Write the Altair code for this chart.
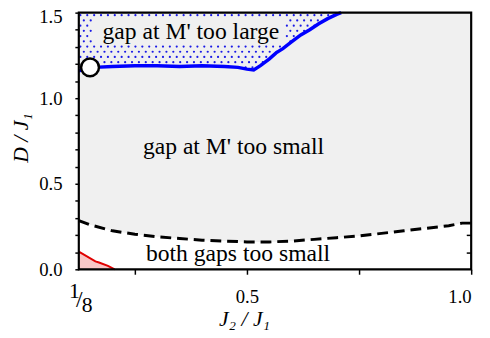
import altair as alt
import pandas as pd

# ---- data ----
J2_dash = [0.125, 0.15, 0.2, 0.25, 0.3, 0.35, 0.4, 0.45, 0.5, 0.55, 0.6, 0.65, 0.7, 0.75, 0.8, 0.85, 0.9, 0.95, 0.98, 1.0]
D_dash = [0.285, 0.26, 0.225, 0.205, 0.19, 0.18, 0.17, 0.165, 0.16, 0.16, 0.165, 0.175, 0.185, 0.195, 0.21, 0.225, 0.24, 0.255, 0.27, 0.27]

J2_blue = [0.125, 0.14, 0.16, 0.2, 0.25, 0.3, 0.35, 0.4, 0.45, 0.48, 0.5, 0.515, 0.53, 0.55, 0.565, 0.58, 0.6, 0.62, 0.64, 0.66, 0.68, 0.7, 0.71]
D_blue = [1.16, 1.17, 1.18, 1.185, 1.19, 1.19, 1.185, 1.19, 1.185, 1.18, 1.17, 1.165, 1.19, 1.23, 1.265, 1.29, 1.33, 1.37, 1.40, 1.435, 1.465, 1.49, 1.5]

J2_red = [0.125, 0.162, 0.17, 0.19, 0.205]
D_red = [0.103, 0.046, 0.04, 0.02, 0.0]

circle_J2 = [0.15]
circle_D = [1.18]

label_text = ["gap at M' too large", "gap at M' too small", "both gaps too small"]
label_J2 = [0.375, 0.47, 0.48]
label_D = [1.345, 0.672, 0.046]

x_tick_values = [0.25, 0.5, 0.75, 1.0]
y_tick_values = [round(0.1 * i, 1) for i in range(16)]
y_inner_ticks = [round(0.1 * i, 1) for i in range(1, 15)]

W, H = 399, 261
FONT = "Liberation Serif"

dash_df = pd.DataFrame({"J2": J2_dash, "D": D_dash})
blue_df = pd.DataFrame({"J2": J2_blue, "D": D_blue})
red_df = pd.DataFrame({"J2": J2_red, "D": D_red})
circ_df = pd.DataFrame({"J2": circle_J2, "D": circle_D})
lab_df = pd.DataFrame({"J2": label_J2, "D": label_D, "t": label_text})
frac_df = pd.DataFrame({"J2": [0.125], "D": [0.0]})

xs = alt.Scale(domain=[0.125, 1.0], nice=False, zero=False)
ys = alt.Scale(domain=[0, 1.5], nice=False, zero=True)


def X(field="J2", axis=None):
    return alt.X(f"{field}:Q", scale=xs, axis=axis)


def Y(field="D", axis=None):
    return alt.Y(f"{field}:Q", scale=ys, axis=axis)


bottom_axis = alt.Axis(
    orient="bottom",
    values=x_tick_values,
    labelExpr="datum.value == 0.5 ? '0.5' : (datum.value == 1 ? '1.0' : '')",
    tickSize=5, tickWidth=1.5, tickColor="black", domain=False,
    labelFont=FONT, labelFontSize=19, labelColor="black", labelPadding=14,
    title="J₂ / J₁", titleFont=FONT, titleFontSize=22, titleFontStyle="italic",
    titleFontWeight="normal", titleColor="black", titleX=168, titleY=57,
    titleBaseline="alphabetic", grid=False, zindex=1,
)

left_axis = alt.Axis(
    orient="left",
    values=y_tick_values,
    labelExpr="indexof(['0.0','0.5','1.0','1.5'], format(datum.value, '.1f')) >= 0 ? format(datum.value, '.1f') : ''",
    labelOffset={"condition": {"test": "datum.value >= 1.45", "value": 4}, "value": 0},
    tickSize=4, tickWidth=1.5, tickColor="black", domain=False,
    labelFont=FONT, labelFontSize=19, labelColor="black", labelPadding=13,
    title="D / J₁", titleFont=FONT, titleFontSize=22, titleFontStyle="italic",
    titleFontWeight="normal", titleColor="black", titleX=-52, titleY=127,
    titleBaseline="alphabetic", grid=False, zindex=1,
)

inner_right_axis = alt.Axis(
    orient="left", offset=-W, values=y_inner_ticks, labels=False, title=None,
    tickSize=5, tickWidth=1.5, tickColor="black", domain=False, grid=False, zindex=0,
)

gray = "#f0f0f0"

gray_area = alt.Chart(dash_df).mark_area(color=gray, opacity=1).encode(
    x=X(axis=bottom_axis), y=Y(axis=left_axis), y2=alt.datum(1.5)
)

inner_ticks = alt.Chart(dash_df).mark_line(opacity=0).encode(
    x=X(), y=Y(axis=inner_right_axis)
)

dots = (
    alt.Chart(alt.sequence(0, 40 * 14, 1, as_="i"))
    .transform_calculate(
        col="datum.i % 40",
        row="floor(datum.i / 40)",
    )
    .transform_calculate(
        J2="0.1285 + datum.col * 0.01535 + (datum.row % 2) * 0.0077",
        D="1.485 - datum.row * 0.0305",
    )
    .transform_filter(
        "datum.J2 <= 0.706 && datum.D > 1.1 && !(datum.J2 > 0.153 && datum.J2 < 0.585 && datum.D > 1.33 && datum.D < 1.47)"
    )
    .mark_circle(size=5, color="#1a1ae6", opacity=1)
    .encode(x=X(), y=Y())
)

cover = alt.Chart(blue_df).mark_area(color=gray, opacity=1).encode(
    x=X(), y=Y(), y2=alt.datum(1.0)
)

dash_line = alt.Chart(dash_df).mark_line(
    color="black", strokeWidth=3, strokeDash=[11, 6]
).encode(x=X(), y=Y())

blue_line = alt.Chart(blue_df).mark_line(
    color="#0000ff", strokeWidth=3.5
).encode(x=X(), y=Y())

red_area = alt.Chart(red_df).mark_area(color="#f07070", opacity=0.4).encode(
    x=X(), y=Y(), y2=alt.datum(0)
)
red_line = alt.Chart(red_df).mark_line(color="#e00000", strokeWidth=2).encode(
    x=X(), y=Y()
)

circle = alt.Chart(circ_df).mark_point(
    shape="circle", filled=True, fill="white", stroke="black",
    strokeWidth=2.5, size=330, opacity=1
).encode(x=X(), y=Y())

labels = alt.Chart(lab_df).mark_text(
    font=FONT, fontSize=24, baseline="alphabetic", align="center", color="black"
).encode(x=X(), y=Y(), text="t:N")

frac_parts = []
for txt, dx, dy, fs in [("1", -4.5, 29, 22), ("/", 0.5, 38, 24), ("8", 8.5, 43, 22)]:
    frac_parts.append(
        alt.Chart(frac_df).mark_text(
            text=txt, font=FONT, fontSize=fs, dx=dx, dy=dy,
            baseline="alphabetic", align="center", color="black"
        ).encode(x=X(), y=Y())
    )

frame = alt.Chart(pd.DataFrame({"a": [0]})).mark_rect(
    fill="transparent", stroke="black", strokeWidth=2.2
).encode(x=alt.value(0), x2=alt.value(W), y=alt.value(0), y2=alt.value(H))

chart = (
    alt.layer(
        inner_ticks, gray_area, dots, cover, red_area, red_line, dash_line,
        blue_line, circle, labels, *frac_parts, frame
    )
    .resolve_axis(x="independent", y="independent")
    .properties(
        width=W, height=H, autosize="none",
        padding={"left": 72, "top": 2, "right": 11, "bottom": 60},
        background="white",
    )
    .configure_view(stroke=None)
)

chart.save("out.html", embed_options={"renderer": "svg", "actions": False})
